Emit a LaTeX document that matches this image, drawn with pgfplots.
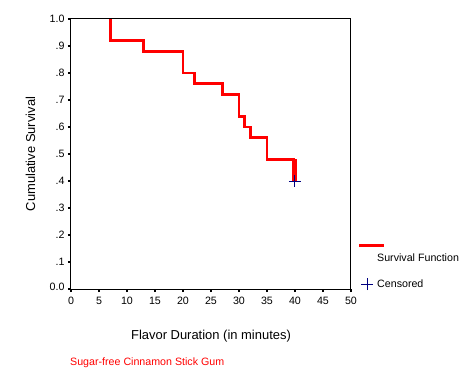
\documentclass[border=0pt]{standalone}
\usepackage{fontspec}
\setmainfont{Liberation Sans}
\usepackage{pgfplots}
\pgfplotsset{compat=1.18}
\definecolor{navy}{RGB}{0,0,128}
\begin{document}
\begin{tikzpicture}
\begin{axis}[name=ax, scale only axis, width=280bp, height=270bp,
  xmin=0, xmax=50, ymin=0, ymax=1,
  xtick={0,5,10,15,20,25,30,35,40,45,50},
  ytick={0,0.1,0.2,0.3,0.4,0.5,0.6,0.7,0.8,0.9,1.0},
  yticklabels={\raisebox{5bp}{0.0},.1,.2,.3,.4,.5,.6,.7,.8,.9,1.0},
  xtick pos=bottom, ytick pos=left, tick align=outside,
  major tick length=3bp,
  tick style={line width=2bp, black},
  axis line style={line width=1bp},
  /pgf/number format/assume math mode=true,
  ticklabel style={font=\fontsize{10.7}{12}\selectfont},
  xticklabel style={yshift=-2bp},
  label style={font=\fontsize{13}{15}\selectfont},
  xlabel={Flavor Duration (in minutes)},
  ylabel={Cumulative Survival},
  xlabel style={at={(axis description cs:0.5,-0.176)}, anchor=center},
  ylabel style={at={(axis description cs:-0.1446,0.5)}, anchor=center},
  legend style={at={(axis description cs:1.0393,0.1296)}, anchor=north west,
    draw=none, fill=none, inner sep=0pt, row sep=16bp, column sep=5bp,
    nodes={inner sep=0pt}, font=\fontsize{10.7}{12}\selectfont},
  legend cell align=left,
]
\addplot[red, line width=2.8bp, line join=miter,
  legend image code/.code={
    \draw[overlay, red, line width=3bp] (-3bp,13bp) -- (22bp,13bp);
    \path[draw=none, fill=none] (0bp,-3bp) rectangle (10bp,3bp);}]
  coordinates {
  (7,1.0) (7,0.92) (13,0.92) (13,0.88) (20,0.88) (20,0.80)
  (22,0.80) (22,0.76) (27,0.76) (27,0.72) (30,0.72) (30,0.64)
  (31,0.64) (31,0.60) (32,0.60) (32,0.56) (35,0.56) (35,0.48)
  (39.8,0.48) (39.8,0.40) (40.1,0.40) (40.1,0.48)
};
\addlegendentry{Survival Function}
\addplot[only marks, mark=+, mark size=6bp, navy, line width=1bp,
  legend image code/.code={
    \draw[overlay, navy, line width=1bp] (-1bp,0bp) -- (11bp,0bp) (5bp,-6bp) -- (5bp,6bp);
    \path[draw=none, fill=none] (0bp,-3bp) rectangle (10bp,3bp);}]
  coordinates {(40,0.40)};
\addlegendentry{Censored}
\end{axis}
\node[anchor=west, text=red, font=\fontsize{10.7}{12}\selectfont, inner sep=0pt]
  at ([xshift=-1bp,yshift=-74bp]ax.south west) {Sugar-free Cinnamon Stick Gum};
\pgfresetboundingbox
\path[use as bounding box] (ax.south west) ++(-71bp,-89bp) rectangle ++(472bp,378bp);
\end{tikzpicture}
\end{document}
